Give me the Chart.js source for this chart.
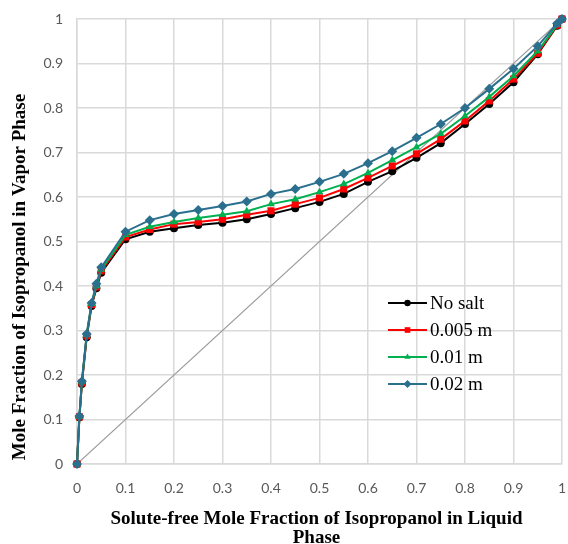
<!DOCTYPE html>
<html>
<head>
<meta charset="utf-8">
<script src="https://cdn.jsdelivr.net/npm/chart.js@4.4.1/dist/chart.umd.min.js"></script>
<style>
  html, body { margin: 0; padding: 0; background: #ffffff; }
  #wrap { width: 568px; height: 544px; }
</style>
</head>
<body>
<div id="wrap"><canvas id="vle"></canvas></div>
<script>
// Solute-free liquid mole fraction of isopropanol (x axis)
const xLiquid = [0, 0.005, 0.01, 0.02, 0.03, 0.04, 0.05, 0.1, 0.15, 0.2, 0.25, 0.3, 0.35,
    0.4, 0.45, 0.5, 0.55, 0.6, 0.65, 0.7, 0.75, 0.8, 0.85, 0.9, 0.95, 0.99, 1];

// Vapor mole fraction for each salt concentration
const yNoSalt = [0, 0.105, 0.18, 0.285, 0.355, 0.395, 0.43, 0.505, 0.522, 0.530, 0.537, 0.542, 0.550,
    0.562, 0.575, 0.589, 0.607, 0.634, 0.658, 0.688, 0.721, 0.764, 0.809, 0.858, 0.921, 0.985, 1];
const y005 = [0, 0.106, 0.182, 0.288, 0.358, 0.398, 0.434, 0.510, 0.527, 0.539, 0.544, 0.550, 0.560,
    0.569, 0.584, 0.598, 0.618, 0.643, 0.670, 0.697, 0.730, 0.771, 0.816, 0.865, 0.923, 0.986, 1];
const y01 = [0, 0.107, 0.184, 0.290, 0.360, 0.400, 0.437, 0.515, 0.533, 0.544, 0.553, 0.560, 0.568,
    0.584, 0.595, 0.611, 0.629, 0.654, 0.683, 0.712, 0.742, 0.782, 0.825, 0.872, 0.928, 0.987, 1];
const y02 = [0, 0.108, 0.186, 0.292, 0.362, 0.405, 0.442, 0.522, 0.548, 0.562, 0.571, 0.580, 0.590,
    0.607, 0.618, 0.634, 0.652, 0.676, 0.703, 0.733, 0.764, 0.800, 0.843, 0.888, 0.939, 0.990, 1];

const seriesLabels = ['No salt', '0.005 m', '0.01 m', '0.02 m'];
const seriesColors = ['#000000', '#ff0000', '#00b050', '#2b6f8f'];
const seriesMarkers = ['circle', 'rect', 'triangle', 'rectRot'];
const markerRadius = [4, 5, 4.5, 5];

// y = x reference line
const diagX = [0, 1];
const diagY = [0, 1];

const axisTicks = [0, 0.1, 0.2, 0.3, 0.4, 0.5, 0.6, 0.7, 0.8, 0.9, 1];

const toPoints = (xs, ys) => xs.map((x, i) => ({ x: x, y: ys[i] }));

const allY = [yNoSalt, y005, y01, y02];
const datasets = allY.map((ys, i) => ({
    label: seriesLabels[i],
    data: toPoints(xLiquid, ys),
    borderColor: seriesColors[i],
    backgroundColor: seriesColors[i],
    borderWidth: 2,
    pointStyle: seriesMarkers[i],
    pointRadius: markerRadius[i],
    pointBorderWidth: 0,
    tension: 0,
    clip: false,
    order: 4 - i
}));

datasets.push({
    label: 'diagonal',
    data: toPoints(diagX, diagY),
    borderColor: '#9a9a9a',
    borderWidth: 1.2,
    pointRadius: 0,
    order: 10
});

// Legend drawn inside the plot area plus the axis titles
const decorPlugin = {
    id: 'decor',
    afterDraw(chart) {
        const ctx = chart.ctx;
        const area = chart.chartArea;
        ctx.save();

        // legend
        const lx = area.left + 311;
        const rows = [303, 330, 357, 384];
        ctx.font = '19px "Liberation Serif", serif';
        ctx.textBaseline = 'middle';
        rows.forEach((ry, i) => {
            ctx.strokeStyle = seriesColors[i];
            ctx.lineWidth = 2;
            ctx.beginPath();
            ctx.moveTo(lx, ry);
            ctx.lineTo(lx + 39, ry);
            ctx.stroke();
            ctx.fillStyle = seriesColors[i];
            Chart.helpers.drawPoint(ctx, {
                pointStyle: seriesMarkers[i],
                radius: markerRadius[i] * 0.8,
                rotation: 0,
                borderWidth: 0
            }, lx + 19.5, ry);
            ctx.fillStyle = '#000000';
            ctx.textAlign = 'left';
            ctx.fillText(seriesLabels[i], lx + 42, ry + 1);
        });

        // axis titles
        ctx.fillStyle = '#000000';
        ctx.font = 'bold 19px "Liberation Serif", serif';
        ctx.textAlign = 'center';
        ctx.textBaseline = 'middle';
        const cx = (area.left + area.right) / 2 - 3;
        ctx.fillText('Solute-free Mole Fraction of Isopropanol in Liquid', cx, 519);
        ctx.fillText('Phase', cx, 538);

        ctx.translate(20, 277);
        ctx.rotate(-Math.PI / 2);
        ctx.fillText('Mole Fraction of Isopropanol in Vapor Phase', 0, 0);
        ctx.restore();
    }
};

const tickFont = { family: 'Lato, "Open Sans", sans-serif', size: 14 };
const gridColor = '#d9d9d9';
const tickLabel = (v) => String(Number(v.toFixed(2)));

new Chart(document.getElementById('vle'), {
    type: 'line',
    data: { datasets: datasets },
    options: {
        responsive: true,
        maintainAspectRatio: false,
        animation: false,
        layout: { padding: { top: 19, right: 6, left: 0, bottom: 0 } },
        plugins: {
            legend: { display: false },
            tooltip: { enabled: false }
        },
        scales: {
            x: {
                type: 'linear',
                min: 0,
                max: 1,
                afterBuildTicks: (scale) => { scale.ticks = axisTicks.map(v => ({ value: v })); },
                afterFit: (scale) => { scale.height = 80; scale.paddingLeft = 0; scale.paddingRight = 0; },
                grid: { color: gridColor, lineWidth: 1.5, drawTicks: false },
                border: { color: gridColor, width: 1.5 },
                ticks: { color: '#595959', font: tickFont, padding: 16, maxRotation: 0, callback: tickLabel }
            },
            y: {
                type: 'linear',
                min: 0,
                max: 1,
                afterBuildTicks: (scale) => { scale.ticks = axisTicks.map(v => ({ value: v })); },
                afterFit: (scale) => { scale.width = 77; scale.paddingTop = 0; scale.paddingBottom = 0; },
                grid: { color: gridColor, lineWidth: 1.5, drawTicks: false },
                border: { color: gridColor, width: 1.5 },
                ticks: { color: '#595959', font: tickFont, padding: 14, callback: tickLabel }
            }
        }
    },
    plugins: [decorPlugin]
});
</script>
</body>
</html>
